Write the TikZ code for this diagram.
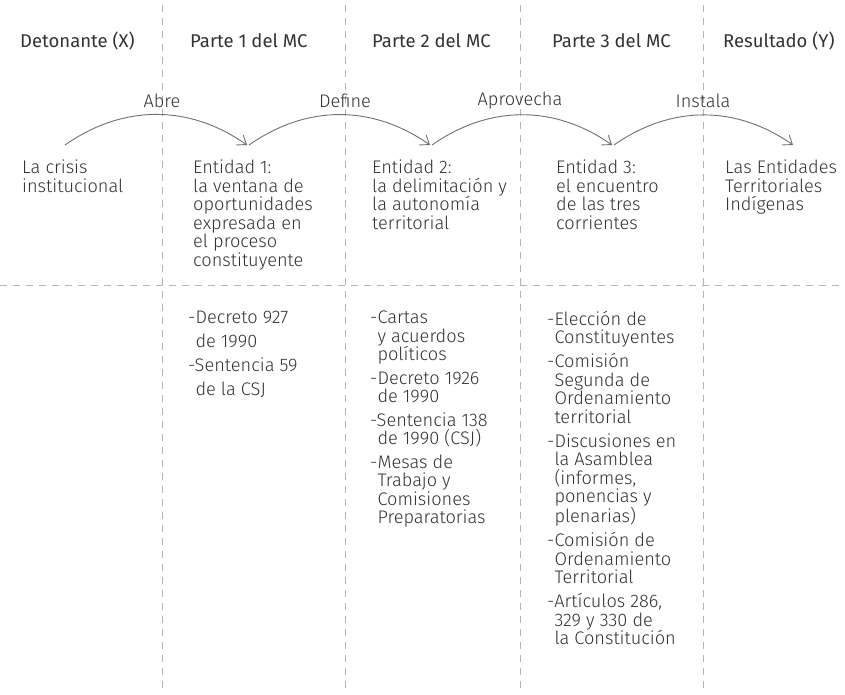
\documentclass[tikz,border=0pt]{standalone}
\usepackage{fontspec}
\setmainfont{Fira Sans}
\newfontfamily\lightfont{Fira Sans Light}
\usetikzlibrary{arrows.meta}
\definecolor{txt}{HTML}{333333}
\definecolor{gridc}{HTML}{B4B4B4}
\definecolor{arcc}{HTML}{707070}
\tikzset{
  hdr/.style={anchor=west, inner sep=0pt, text=txt, font=\fontsize{18.5}{20}\selectfont},
  body/.style={anchor=north west, inner sep=0pt, align=left, text=txt, font=\lightfont\fontsize{18.2}{18.5}\selectfont},
  lbl/.style={inner sep=0pt, text=txt, font=\lightfont\fontsize{18.2}{18.5}\selectfont},
  gridline/.style={draw=gridc, line width=0.9pt, dash pattern=on 7pt off 6pt},
  arcline/.style={draw=arcc, line width=0.9pt, -{Straight Barb[length=8pt,width=12pt]}}
}
\begin{document}
\begin{tikzpicture}[x=1pt,y=-1pt]
\useasboundingbox (0,0) rectangle (845,694);
% grid
\draw[gridline] (162,5) -- (162,694);
\draw[gridline] (345,5) -- (345,694);
\draw[gridline] (520,5) -- (520,694);
\draw[gridline] (703,5) -- (703,694);
\draw[gridline] (0,285) -- (845,285);
% headers
\node[hdr] (h1) at (20,41) {Detonante (X)};
\node[hdr] (h2) at (190,41) {Parte 1 del MC};
\node[hdr] (h3) at (372,41) {Parte 2 del MC};
\node[hdr] (h4) at (552,41) {Parte 3 del MC};
\node[hdr] (h5) at (723,41) {Resultado (Y)};
% upper texts
\node[body] (t1) at (22,160) {La crisis\\institucional};
\node[body] (t2) at (193,160) {Entidad 1:\\la ventana de\\oportunidades\\expresada en\\el proceso\\constituyente};
\node[body] (t3) at (372,160) {Entidad 2:\\la delimitación y\\la autonomía\\territorial};
\node[body] (t4) at (556,160) {Entidad 3:\\el encuentro\\de las tres\\corrientes};
\node[body] (t5) at (725,160) {Las Entidades\\Territoriales\\Indígenas};
% arcs
\coordinate (s1) at (65,145);
\coordinate (e1) at (247,145);
\coordinate (s2) at (249,145);
\coordinate (e2) at (430,145);
\coordinate (s3) at (432,145);
\coordinate (e3) at (612,145);
\coordinate (s4) at (614,145);
\coordinate (e4) at (793,145);
\draw[arcline] (s1) to[bend left=35] (e1);
\draw[arcline] (s2) to[bend left=35] (e2);
\draw[arcline] (s3) to[bend left=35] (e3);
\draw[arcline] (s4) to[bend left=35] (e4);
\node[lbl] (l1) at (162,101) {Abre};
\node[lbl] (l2) at (345,101) {Define};
\node[lbl] (l3) at (520,101) {Aprovecha};
\node[lbl] (l4) at (703,101) {Instala};
% lower lists
\node[body] (b2) at (188,311) {-Decreto 927\\[5.5pt]\hphantom{-}de 1990\\[5.5pt]-Sentencia 59\\[5.5pt]\hphantom{-}de la CSJ};
\node[body] (b3) at (370,311) {-Cartas\\\hphantom{-}y acuerdos\\\hphantom{-}políticos\\[5pt]-Decreto 1926\\\hphantom{-}de 1990\\[5pt]-Sentencia 138\\\hphantom{-}de 1990 (CSJ)\\[5pt]-Mesas de\\\hphantom{-}Trabajo y\\\hphantom{-}Comisiones\\\hphantom{-}Preparatorias};
\node[body] (b4) at (547,311) {-Elección de\\\hphantom{-}Constituyentes\\[5.5pt]-Comisión\\\hphantom{-}Segunda de\\\hphantom{-}Ordenamiento\\\hphantom{-}territorial\\[5.5pt]-Discusiones en\\\hphantom{-}la Asamblea\\\hphantom{-}(informes,\\\hphantom{-}ponencias y\\\hphantom{-}plenarias)\\[5.5pt]-Comisión de\\\hphantom{-}Ordenamiento\\\hphantom{-}Territorial\\[5.5pt]-Artículos 286,\\\hphantom{-}329 y 330 de\\\hphantom{-}la Constitución};
\end{tikzpicture}
\end{document}
